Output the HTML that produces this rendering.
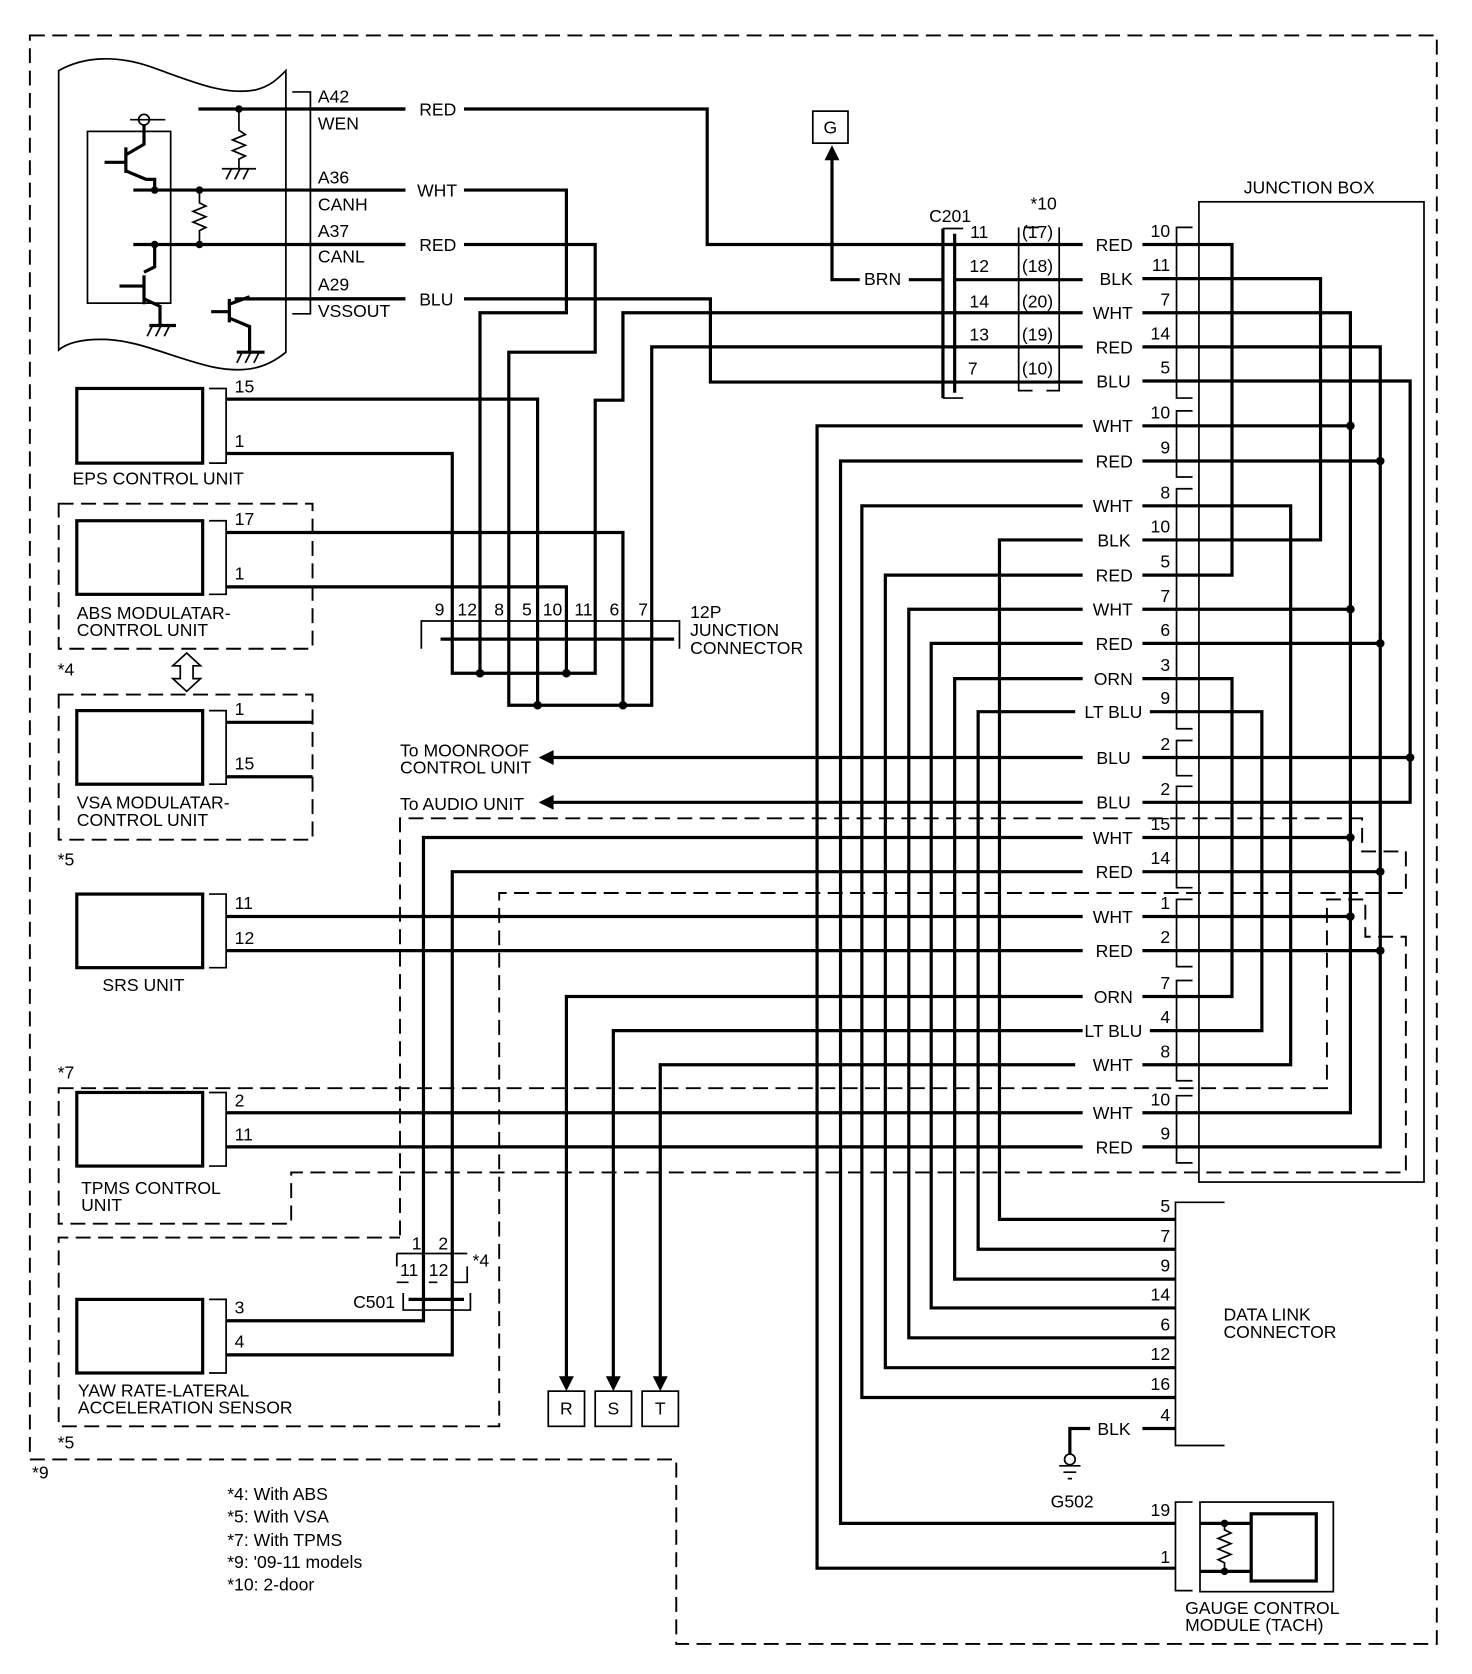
<!DOCTYPE html>
<html><head><meta charset="utf-8"><style>
html,body{margin:0;padding:0;background:#fff}
svg{display:block}
text{font-family:"Liberation Sans",sans-serif;font-size:16.5px;fill:#000}
.w{fill:none;stroke:#000;stroke-width:3}
.t{fill:none;stroke:#000;stroke-width:1.6}
.d{fill:none;stroke:#000;stroke-width:1.8;stroke-dasharray:14 7}
</style></head><body>
<svg width="1472" height="1674" viewBox="0 0 1380 1569" xmlns="http://www.w3.org/2000/svg">
<rect width="1380" height="1569" fill="#fff"/>
<path class="d" d="M28,33 H1347 V1541 H634 V1368 H28 Z"/>
<text x="30" y="1386">*9</text>

<!-- ECM -->
<path class="t" d="M55,66 C80,52 110,52 140,62 C180,76 210,90 240,84 C255,80 262,72 268,66 V330 C250,345 230,350 200,344 C160,335 130,318 95,318 C75,318 62,322 55,328 Z"/>
<path class="t" d="M274,86 H291 V294 H274"/>
<path class="w" d="M186,102 H380 M435,102 H663 V229 H884"/>
<circle cx="224" cy="102" r="3.5"/>
<path class="t" d="M224,102 V122 l6,4 -12,5 12,5 -12,5 12,5 -6,3 V158 M208,158 H240 M212,168 l5,-10 M220,168 l5,-10 M228,168 l5,-10"/>
<path class="w" d="M125,178 H380 M125,229 H380 M220,280 H380"/>
<circle cx="145" cy="178" r="3.5"/><circle cx="187" cy="178" r="3.5"/>
<circle cx="145" cy="229" r="3.5"/><circle cx="187" cy="229" r="3.5"/>
<path class="t" d="M187,178 V190 l6,3 -12,5 12,5 -12,5 12,5 -6,3 V229"/>
<rect class="t" x="82" y="123" width="78" height="161"/>
<path class="t" d="M122,112 H155 M130,112 a5,5 0 1,0 10,0 a5,5 0 1,0 -10,0"/>
<path class="w" d="M135,117 V135 L118,145 M118,138 V162 M98,152 H118 M118,160 L137,168 H145 V178"/>
<path class="w" d="M145,229 V250 L135,255 M135,258 V285 M112,268 H135 M135,280 L150,287 V305 M140,305 H165"/>
<path class="t" d="M138,315 l5,-10 M146,315 l5,-10 M154,315 l5,-10"/>
<path class="w" d="M215,292 H198 M215,280 V302 M215,285 L234,278 M215,298 L234,306 V330 M222,330 H248"/>
<path class="t" d="M222,340 l5,-10 M230,340 l5,-10 M238,340 l5,-10"/>
<text x="298" y="96">A42</text><text x="298" y="121">WEN</text>
<text x="298" y="172">A36</text><text x="298" y="197">CANH</text>
<text x="298" y="222">A37</text><text x="298" y="246">CANL</text>
<text x="298" y="272">A29</text><text x="298" y="297">VSSOUT</text>
<text x="393" y="108">RED</text><text x="391" y="184">WHT</text>
<text x="393" y="235">RED</text><text x="393" y="286">BLU</text>
<path class="w" d="M291,102 H380 M291,178 H380 M291,229 H380 M291,280 H380"/>
<path class="w" d="M435,178 H531 V293 H450 V599"/>
<path class="w" d="M435,229 H558 V330 H477 V599"/>
<path class="w" d="M435,280 H666 V358 H884"/>
<path class="w" d="M884,293 H584 V375 H558 V599"/>
<path class="w" d="M884,325 H611 V599"/>
<path class="w" d="M212,374 H504 V599"/>
<path class="w" d="M212,425 H424 V599"/>
<path class="w" d="M212,499 H584 V599"/>
<path class="w" d="M212,550 H531 V599"/>
<path class="t" d="M395,608 V582 H637 V608"/>
<path class="w" d="M413,599 H632"/>
<path class="w" d="M424,599 V631 H558 V599 M450,599 V631 M531,599 V631"/>
<path class="w" d="M477,599 V661 H611 V599 M504,599 V661 M584,599 V661"/>
<circle cx="450" cy="631" r="4"/><circle cx="531" cy="631" r="4"/>
<circle cx="504" cy="661" r="4"/><circle cx="584" cy="661" r="4"/>
<g text-anchor="middle"><text x="412" y="577">9</text><text x="438" y="577">12</text><text x="468" y="577">8</text><text x="494" y="577">5</text><text x="518" y="577">10</text><text x="547" y="577">11</text><text x="576" y="577">6</text><text x="603" y="577">7</text></g>
<text x="647" y="579">12P</text><text x="647" y="596">JUNCTION</text><text x="647" y="613">CONNECTOR</text>

<rect class="t" x="762" y="104" width="33" height="30"/><text x="772" y="125">G</text>
<path class="w" d="M780,148 V262 H806 M852,262 H884"/>
<path d="M773,150 L780,136 L787,150 Z"/>
<text x="810" y="267">BRN</text>
<path class="w" d="M884,214 V373"/>
<path class="t" d="M884,214 H903 M884,373 H903"/>
<path class="w" d="M895,219 V368"/>
<text x="871" y="208">C201</text>
<g text-anchor="middle"><text x="918" y="223">11</text><text x="918" y="255">12</text><text x="918" y="288">14</text><text x="918" y="319">13</text><text x="912" y="351">7</text></g>
<text x="966" y="196">*10</text>
<path class="t" d="M960,213 H974 M993,213 V366 H981 M968,366 H955 V213"/>
<g><text x="958" y="223">(17)</text><text x="958" y="255">(18)</text><text x="958" y="288">(20)</text><text x="958" y="319">(19)</text><text x="958" y="351">(10)</text></g>
<path class="w" d="M895,229 H1015 M895,262 H1015 M884,293 H1015 M884,325 H1015 M884,358 H1015 M884,229 H895"/>

<text x="1166" y="181">JUNCTION BOX</text>
<rect class="t" x="1124" y="189" width="211" height="919"/>
<g text-anchor="end">
<text x="1062" y="235">RED</text><text x="1062" y="267">BLK</text><text x="1062" y="299">WHT</text><text x="1062" y="331">RED</text><text x="1060" y="363">BLU</text>
<text x="1062" y="405">WHT</text><text x="1062" y="438">RED</text>
<text x="1062" y="480">WHT</text><text x="1060" y="512">BLK</text><text x="1062" y="545">RED</text><text x="1062" y="577">WHT</text><text x="1062" y="609">RED</text><text x="1062" y="642">ORN</text><text x="1071" y="673">LT BLU</text>
<text x="1060" y="716">BLU</text><text x="1060" y="758">BLU</text>
<text x="1062" y="791">WHT</text><text x="1062" y="823">RED</text>
<text x="1062" y="865">WHT</text><text x="1062" y="897">RED</text>
<text x="1062" y="940">ORN</text><text x="1071" y="972">LT BLU</text><text x="1062" y="1004">WHT</text>
<text x="1062" y="1049">WHT</text><text x="1062" y="1081">RED</text>
<text x="1060" y="1345">BLK</text>
</g>
<g text-anchor="end">
<text x="1097" y="222">10</text><text x="1097" y="254">11</text><text x="1097" y="286">7</text><text x="1097" y="318">14</text><text x="1097" y="350">5</text>
<text x="1097" y="392">10</text><text x="1097" y="425">9</text>
<text x="1097" y="467">8</text><text x="1097" y="499">10</text><text x="1097" y="532">5</text><text x="1097" y="564">7</text><text x="1097" y="596">6</text><text x="1097" y="629">3</text><text x="1097" y="660">9</text>
<text x="1097" y="703">2</text><text x="1097" y="745">2</text>
<text x="1097" y="778">15</text><text x="1097" y="810">14</text>
<text x="1097" y="852">1</text><text x="1097" y="884">2</text>
<text x="1097" y="927">7</text><text x="1097" y="959">4</text><text x="1097" y="991">8</text>
<text x="1097" y="1036">10</text><text x="1097" y="1068">9</text>
</g>
<path class="w" d="M1071,229H1103 M1071,261H1103 M1071,293H1103 M1071,325H1103 M1071,357H1103 M1071,399H1103 M1071,432H1103 M1071,474H1103 M1071,506H1103 M1071,539H1103 M1071,571H1103 M1071,603H1103 M1071,636H1103 M1078,667H1103 M1071,710H1103 M1071,752H1103 M1071,785H1103 M1071,817H1103 M1071,859H1103 M1071,891H1103 M1071,934H1103 M1078,966H1103 M1071,998H1103 M1071,1043H1103 M1071,1075H1103"/>
<path class="t" d="M1118,213 H1103 V373 H1118 M1118,385 H1103 V447 H1118 M1118,458 H1103 V683 H1118 M1118,694 H1103 V727 H1118 M1118,737 H1103 V832 H1118 M1118,843 H1103 V906 H1118 M1118,919 H1103 V1013 H1118 M1118,1027 H1103 V1090 H1118"/>
<path class="w" d="M1103,229 H1155 V539 H1103"/>
<path class="w" d="M1103,636 H1155 V934 H1103"/>
<path class="w" d="M1103,261 H1238 V506 H1103"/>
<path class="w" d="M1103,293 H1266 V1043 H1103"/>
<path class="w" d="M1103,325 H1294 V1075 H1103"/>
<path class="w" d="M1103,357 H1322 V752 H1103"/>
<path class="w" d="M1103,474 H1210 V998 H1103"/>
<path class="w" d="M1103,667 H1183 V966 H1103"/>
<path class="w" d="M1103,399 H1266 M1103,432 H1294 M1103,571 H1266 M1103,603 H1294 M1103,710 H1322 M1103,785 H1266 M1103,817 H1294 M1103,859 H1266 M1103,891 H1294"/>
<g><circle cx="1266" cy="399" r="4"/><circle cx="1294" cy="432" r="4"/><circle cx="1266" cy="571" r="4"/><circle cx="1294" cy="603" r="4"/><circle cx="1322" cy="710" r="4"/><circle cx="1266" cy="785" r="4"/><circle cx="1294" cy="817" r="4"/><circle cx="1266" cy="859" r="4"/><circle cx="1294" cy="891" r="4"/></g>

<path class="w" d="M1015,399 H766 V1470 H1102"/>
<path class="w" d="M1015,432 H788 V1428 H1102"/>
<path class="w" d="M1015,474 H808 V1310 H1102"/>
<path class="w" d="M1015,506 H937 V1143 H1102"/>
<path class="w" d="M1015,539 H830 V1282 H1102"/>
<path class="w" d="M1015,571 H852 V1254 H1102"/>
<path class="w" d="M1015,603 H873 V1226 H1102"/>
<path class="w" d="M1015,636 H895 V1199 H1102"/>
<path class="w" d="M1008,667 H917 V1171 H1102"/>
<path class="w" d="M1015,710 H515 M1015,752 H515"/>
<path d="M505,710 L519,703 V717 Z M505,752 L519,745 V759 Z"/>
<text x="375" y="709">To MOONROOF</text><text x="375" y="725">CONTROL UNIT</text>
<text x="375" y="759">To AUDIO UNIT</text>
<path class="w" d="M1015,785 H397 V1218 M1015,817 H424 V1218"/>
<path class="w" d="M1015,859 H212 M1015,891 H212"/>
<path class="w" d="M1015,934 H531 V1292 M1015,966 H575 V1292 M1008,998 H619 V1292"/>
<path d="M524,1290 H538 L531,1304 Z M568,1290 H582 L575,1304 Z M612,1290 H626 L619,1304 Z"/>
<rect class="t" x="514" y="1304" width="34" height="33"/><rect class="t" x="558" y="1304" width="34" height="33"/><rect class="t" x="602" y="1304" width="34" height="33"/>
<g text-anchor="middle"><text x="531" y="1326">R</text><text x="575" y="1326">S</text><text x="619" y="1326">T</text></g>
<path class="w" d="M1015,1043 H212 M1015,1075 H212"/>

<path class="d" d="M375,1158 V767 H1277 V798 H1318 V837 H468 V1337 H55 V1160 H375"/>
<path class="d" d="M55,1020 H1244 V843 H1280 V878 H1318 V1099 H273 V1147 H55 Z"/>
<path class="d" d="M55,472 H293 V608 H55 Z"/>
<path class="d" d="M55,651 H293 V787 H55 Z"/>
<text x="54" y="633">*4</text><text x="54" y="811">*5</text><text x="54" y="1011">*7</text><text x="54" y="1358">*5</text>

<rect class="w" x="72" y="364" width="118" height="70"/>
<path class="t" d="M196,364 H212 V434 H196"/>
<text x="220" y="368">15</text><text x="220" y="419">1</text>
<text x="68" y="454">EPS CONTROL UNIT</text>
<rect class="w" x="72" y="488" width="118" height="69"/>
<path class="t" d="M196,488 H212 V557 H196"/>
<text x="220" y="492">17</text><text x="220" y="543">1</text>
<text x="72" y="580">ABS MODULATAR-</text><text x="72" y="596">CONTROL UNIT</text>
<path class="t" d="M175,612 L188,624 H181 V636 H188 L175,648 L162,636 H169 V624 H162 Z"/>
<rect class="w" x="72" y="666" width="118" height="69"/>
<path class="t" d="M196,666 H212 V735 H196"/>
<text x="220" y="670">1</text><text x="220" y="721">15</text>
<path class="w" d="M212,677 H293 M212,728 H293"/>
<text x="72" y="758">VSA MODULATAR-</text><text x="72" y="774">CONTROL UNIT</text>
<rect class="w" x="72" y="838" width="118" height="69"/>
<path class="t" d="M196,838 H212 V907 H196"/>
<text x="220" y="852">11</text><text x="220" y="885">12</text>
<text x="96" y="929">SRS UNIT</text>
<rect class="w" x="72" y="1024" width="118" height="69"/>
<path class="t" d="M196,1024 H212 V1093 H196"/>
<text x="220" y="1037">2</text><text x="220" y="1069">11</text>
<text x="76" y="1119">TPMS CONTROL</text><text x="76" y="1135">UNIT</text>
<rect class="w" x="72" y="1218" width="118" height="69"/>
<path class="t" d="M196,1218 H212 V1287 H196"/>
<text x="220" y="1231">3</text><text x="220" y="1263">4</text>
<path class="w" d="M212,1238 H397 V1218 M212,1270 H424 V1218"/>
<text x="73" y="1309">YAW RATE-LATERAL</text><text x="73" y="1325">ACCELERATION SENSOR</text>
<path class="t" d="M378,1212 V1228 H441 V1212"/>
<path class="w" d="M383,1218 H435"/>
<text x="331" y="1226">C501</text>
<text x="386" y="1171">1</text><text x="411" y="1171">2</text>
<path class="t" d="M372,1175 H438 M372,1175 V1187 M372,1202 H383 M402,1202 H410 M425,1202 H438 V1187"/>
<text x="375" y="1196">11</text><text x="402" y="1196">12</text>
<text x="443" y="1187">*4</text>

<path class="t" d="M1148,1127 H1102 V1355 H1148"/>
<g text-anchor="end"><text x="1097" y="1136">5</text><text x="1097" y="1164">7</text><text x="1097" y="1192">9</text><text x="1097" y="1219">14</text><text x="1097" y="1247">6</text><text x="1097" y="1275">12</text><text x="1097" y="1303">16</text><text x="1097" y="1332">4</text></g>
<text x="1147" y="1238">DATA LINK</text><text x="1147" y="1254">CONNECTOR</text>
<path class="w" d="M1071,1339 H1102 M1022,1339 H1003 V1363"/>
<circle class="t" cx="1003" cy="1368" r="5"/>
<path class="t" d="M993,1374 H1013 M997,1380 H1009 M1001,1386 H1005"/>
<text x="985" y="1413">G502</text>
<path class="t" d="M1118,1408 H1102 V1491 H1118"/>
<text x="1097" y="1421" text-anchor="end">19</text><text x="1097" y="1465" text-anchor="end">1</text>
<rect class="t" x="1125" y="1408" width="125" height="84"/>
<rect class="w" x="1173" y="1419" width="61" height="63"/>
<path class="w" d="M1125,1428 H1173 M1125,1473 H1173"/>
<circle cx="1148" cy="1428" r="3.5"/><circle cx="1148" cy="1473" r="3.5"/>
<path class="t" d="M1148,1428 V1434 l6,3 -12,5 12,5 -12,5 12,5 -12,5 6,3 V1473"/>
<text x="1111" y="1513">GAUGE CONTROL</text><text x="1111" y="1529">MODULE (TACH)</text>

<g style="font-size:19px"><text x="213" y="1406">*4: With ABS</text><text x="213" y="1427">*5: With VSA</text><text x="213" y="1449">*7: With TPMS</text><text x="213" y="1470">*9: '09-11 models</text><text x="213" y="1491">*10: 2-door</text></g>
</svg>
</body></html>
